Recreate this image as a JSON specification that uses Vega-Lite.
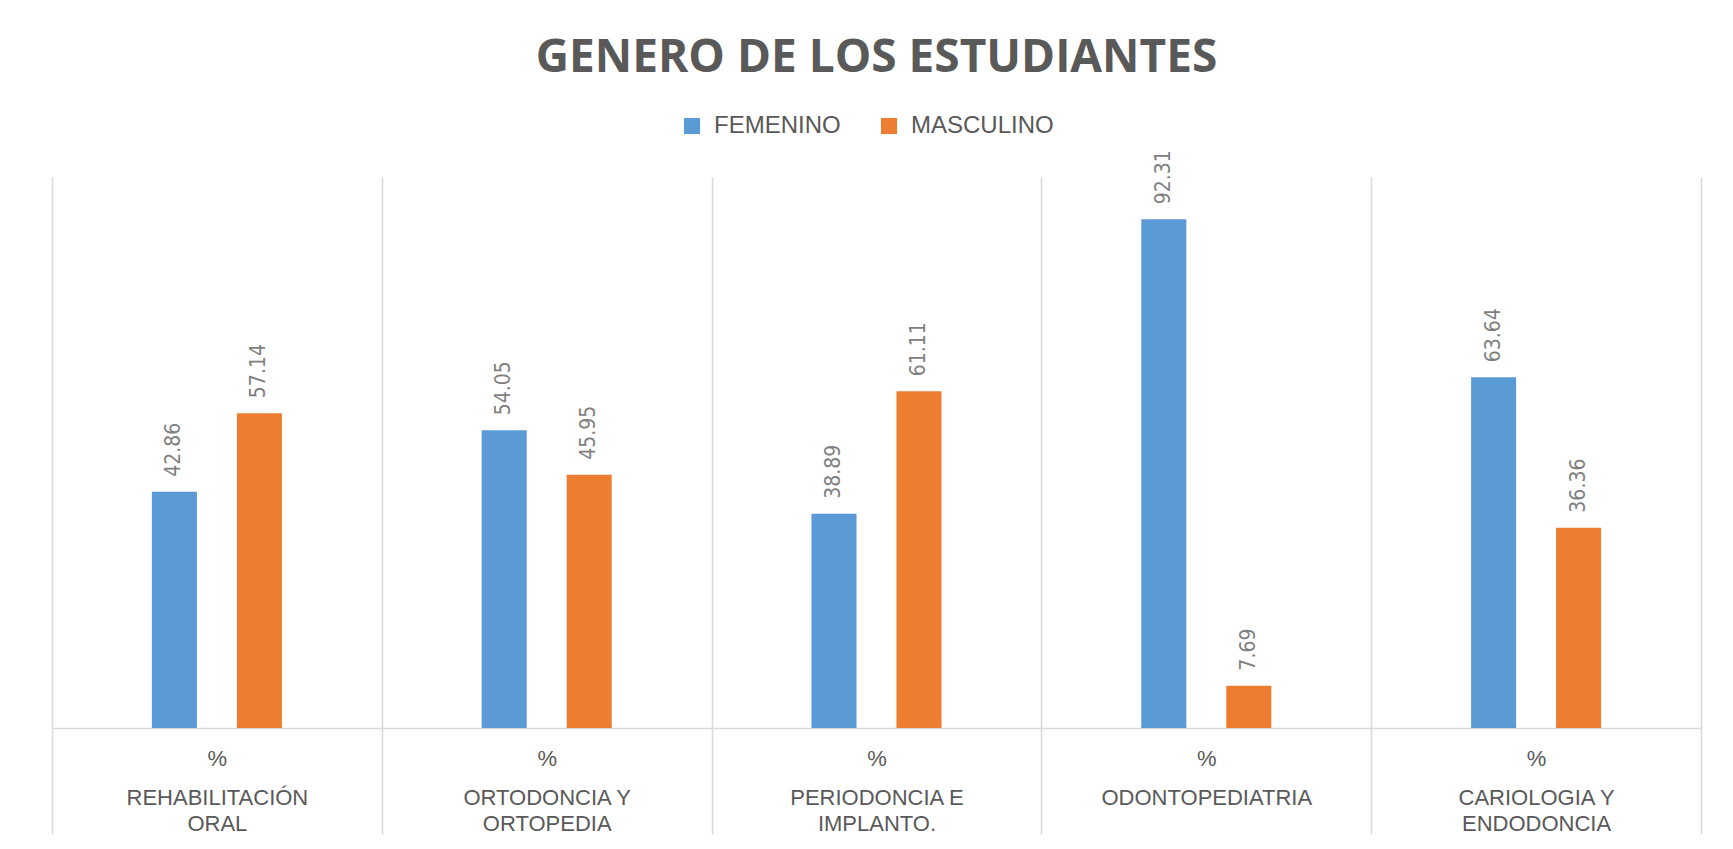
{
  "$schema": "https://vega.github.io/schema/vega-lite/v6.json",
  "autosize": {"type": "none"},
  "width": 1649,
  "height": 551,
  "padding": {"left": 52, "top": 177, "right": 32, "bottom": 121},
  "background": "white",
  "title": {
    "text": "GENERO DE LOS ESTUDIANTES",
    "anchor": "middle",
    "fontSize": 46,
    "font": "Open Sans",
    "fontWeight": "bold",
    "color": "#595959",
    "offset": 32
  },
  "data": {
    "values": [
      {"especialidad": "REHABILITACIÓN ORAL", "genero": "FEMENINO", "porcentaje": 42.86},
      {"especialidad": "REHABILITACIÓN ORAL", "genero": "MASCULINO", "porcentaje": 57.14},
      {"especialidad": "ORTODONCIA Y ORTOPEDIA", "genero": "FEMENINO", "porcentaje": 54.05},
      {"especialidad": "ORTODONCIA Y ORTOPEDIA", "genero": "MASCULINO", "porcentaje": 45.95},
      {"especialidad": "PERIODONCIA E IMPLANTO.", "genero": "FEMENINO", "porcentaje": 38.89},
      {"especialidad": "PERIODONCIA E IMPLANTO.", "genero": "MASCULINO", "porcentaje": 61.11},
      {"especialidad": "ODONTOPEDIATRIA", "genero": "FEMENINO", "porcentaje": 92.31},
      {"especialidad": "ODONTOPEDIATRIA", "genero": "MASCULINO", "porcentaje": 7.69},
      {"especialidad": "CARIOLOGIA Y ENDODONCIA", "genero": "FEMENINO", "porcentaje": 63.64},
      {"especialidad": "CARIOLOGIA Y ENDODONCIA", "genero": "MASCULINO", "porcentaje": 36.36}
    ]
  },
  "encoding": {
    "x": {
      "field": "especialidad",
      "type": "nominal",
      "sort": null,
      "scale": {"paddingInner": 0, "paddingOuter": 0},
      "axis": {
        "title": null,
        "labelAngle": 0,
        "tickBand": "extent",
        "ticks": true,
        "tickSize": 106,
        "tickColor": "#d9d9d9",
        "tickWidth": 1.5,
        "grid": true,
        "gridColor": "#d9d9d9",
        "gridWidth": 1.5,
        "domain": true,
        "domainColor": "#d9d9d9",
        "domainWidth": 1.5,
        "labelPadding": -86,
        "labelFont": "Liberation Sans",
        "labelFontSize": 22,
        "labelColor": "#595959",
        "labelLineHeight": 13,
        "labelBaseline": "top",
        "labelLimit": 0,
        "labelOverlap": false,
        "labelExpr": "!datum.label ? '' : (lastindexof(datum.label, ' ') < 0 ? ['%', '\u200b', '\u200b', datum.label] : ['%', '\u200b', '\u200b', substring(datum.label, 0, lastindexof(datum.label, ' ')), '\u200b', substring(datum.label, lastindexof(datum.label, ' ') + 1)])"
      }
    },
    "xOffset": {
      "field": "genero",
      "type": "nominal",
      "scale": {"domain": ["·", "FEMENINO", "MASCULINO", "··"], "paddingInner": 0.47, "paddingOuter": 0.175}
    },
    "y": {
      "field": "porcentaje",
      "type": "quantitative",
      "scale": {"domain": [0, 100], "nice": false},
      "axis": null
    }
  },
  "layer": [
    {
      "mark": {"type": "bar"},
      "encoding": {
        "color": {
          "field": "genero",
          "type": "nominal",
          "scale": {"domain": ["FEMENINO", "MASCULINO"], "range": ["#5B9BD5", "#ED7D31"]},
          "legend": {
            "title": null,
            "orient": "none",
            "legendX": 628,
            "legendY": -63,
            "direction": "horizontal",
            "symbolType": "square",
            "symbolSize": 260,
            "symbolStrokeWidth": 0,
            "labelFont": "Liberation Sans",
            "labelFontSize": 24,
            "labelColor": "#595959",
            "labelOffset": 10,
            "columnPadding": 36
          }
        }
      }
    },
    {
      "mark": {
        "type": "text",
        "angle": 270,
        "align": "left",
        "baseline": "middle",
        "dx": 15,
        "font": "Liberation Sans Narrow, DejaVu Sans Condensed, sans-serif",
        "fontSize": 21,
        "color": "#7f7f7f"
      },
      "encoding": {
        "text": {"field": "porcentaje", "type": "quantitative", "format": ".2f"}
      }
    }
  ],
  "config": {"view": {"stroke": null}}
}
